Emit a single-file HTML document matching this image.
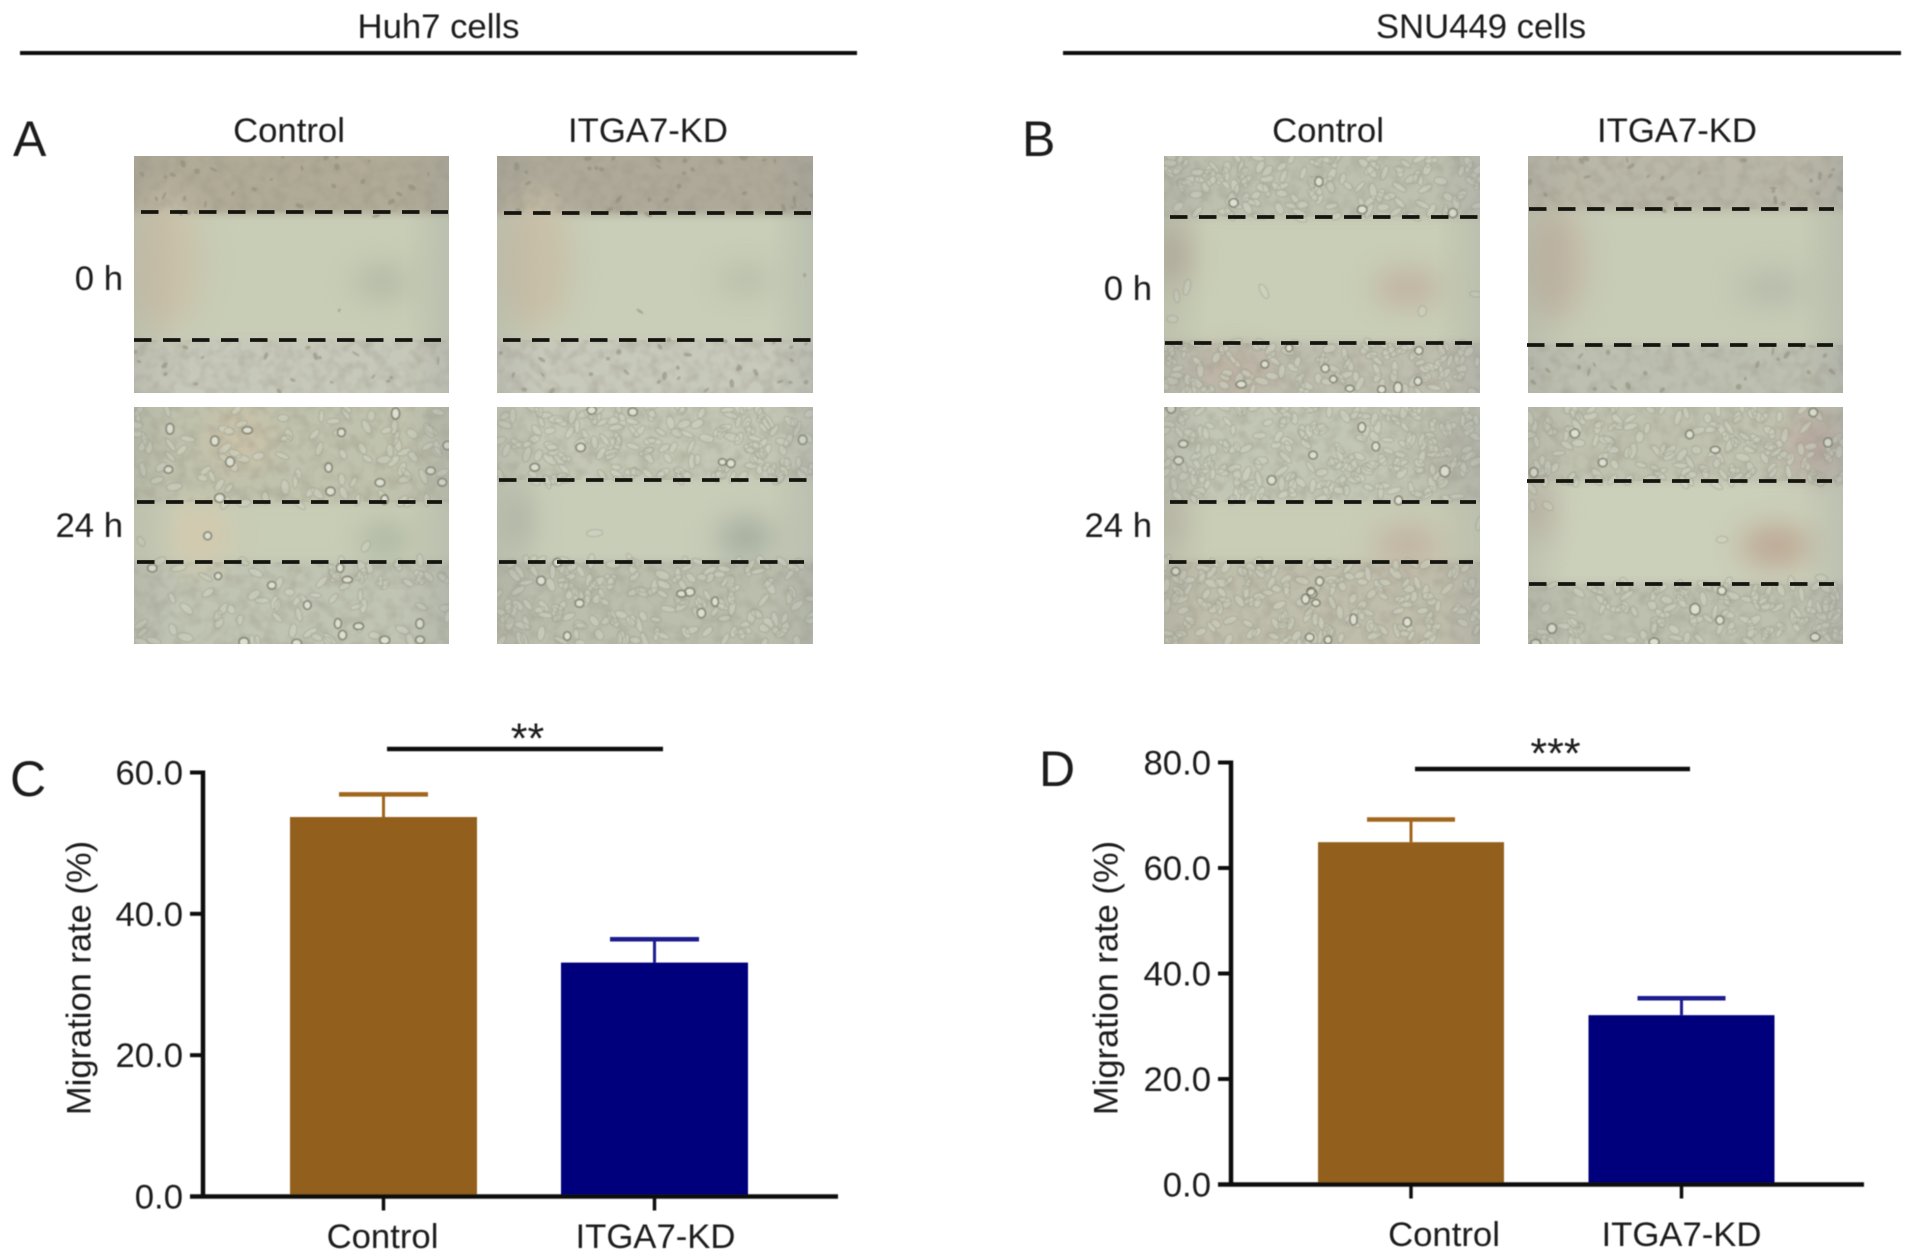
<!DOCTYPE html>
<html lang="en">
<head>
<meta charset="utf-8">
<title>Wound healing migration assay</title>
<style>
  html, body { margin: 0; padding: 0; background: #ffffff; }
  body { width: 1913px; height: 1260px; overflow: hidden; }
  svg { display: block; }
  text { font-family: "Liberation Sans", sans-serif; fill: #1a1a1a; }
</style>
</head>
<body>
<svg id="figure" xmlns="http://www.w3.org/2000/svg" width="1913" height="1260" viewBox="0 0 1913 1260">
  <defs>
    <filter id="soft" x="-300%" y="-300%" width="700%" height="700%" color-interpolation-filters="sRGB"><feGaussianBlur stdDeviation="15"/></filter>
    <filter id="bandBlur" x="-5%" y="-30%" width="110%" height="160%"><feGaussianBlur stdDeviation="4"/></filter>
    <filter id="cellBlur" x="0" y="0" width="100%" height="100%"><feGaussianBlur stdDeviation="0.9"/></filter>
    <filter id="textBlur" x="-5%" y="-5%" width="110%" height="110%"><feGaussianBlur stdDeviation="0.45"/></filter>
    <filter id="grain" x="0" y="0" width="100%" height="100%">
      <feTurbulence type="fractalNoise" baseFrequency="0.08" numOctaves="2" seed="7"/>
      <feColorMatrix type="matrix" values="0 0 0 0 0.30  0 0 0 0 0.28  0 0 0 0 0.22  1.5 0 0 0 -0.6"/>
    </filter>
    <linearGradient id="vignette" x1="0" y1="0" x2="1" y2="0">
      <stop offset="0" stop-color="#8f8f8a" stop-opacity="0.2"/>
      <stop offset="0.14" stop-color="#8f8f8a" stop-opacity="0"/>
      <stop offset="0.86" stop-color="#8f8f8a" stop-opacity="0"/>
      <stop offset="1" stop-color="#8f9498" stop-opacity="0.24"/>
    </linearGradient>
  </defs>

  <g id="headers" filter="url(#textBlur)">
    <text x="438.5" y="38" font-size="34.7" text-anchor="middle">Huh7 cells</text>
    <rect x="20" y="51" width="837" height="4" fill="#111"/>
    <text x="1481" y="38" font-size="34.7" text-anchor="middle">SNU449 cells</text>
    <rect x="1063" y="51" width="838" height="4" fill="#111"/>
    <text x="13" y="156" font-size="50">A</text>
    <text x="1022" y="156" font-size="50">B</text>
    <text x="10" y="796" font-size="50">C</text>
    <text x="1039" y="786" font-size="50">D</text>
    <text x="289" y="142" font-size="34.7" text-anchor="middle">Control</text>
    <text x="648" y="142" font-size="34.7" text-anchor="middle">ITGA7-KD</text>
    <text x="1328" y="142" font-size="34.7" text-anchor="middle">Control</text>
    <text x="1677" y="142" font-size="34.7" text-anchor="middle">ITGA7-KD</text>
    <text x="123" y="290" font-size="34.7" text-anchor="end">0 h</text>
    <text x="123" y="537" font-size="34.7" text-anchor="end">24 h</text>
    <text x="1152" y="300" font-size="34.7" text-anchor="end">0 h</text>
    <text x="1152" y="537" font-size="34.7" text-anchor="end">24 h</text>
  </g>
  <g id="photos"></g>
  <g id="chartC" filter="url(#textBlur)"></g>
  <g id="chartD" filter="url(#textBlur)"></g>
</svg>

<script>
/* ---------- chart data ---------- */
const categories = ['Control', 'ITGA7-KD'];
const cValues = [53.7, 33.1];
const cErrors = [3.2, 3.3];
const cTicks = [0, 20, 40, 60];
const cTickLabels = ['0.0', '20.0', '40.0', '60.0'];
const cStars = '**';
const dValues = [64.9, 32.1];
const dErrors = [4.3, 3.2];
const dTicks = [0, 20, 40, 60, 80];
const dTickLabels = ['0.0', '20.0', '40.0', '60.0', '80.0'];
const dStars = '***';

const NS = 'http://www.w3.org/2000/svg';
function make(parent, tag, attrs, content) {
  const el = document.createElementNS(NS, tag);
  for (const k in attrs) el.setAttribute(k, attrs[k]);
  if (content !== undefined) el.textContent = content;
  parent.appendChild(el);
  return el;
}

const barFill = ['#92601e', '#00007b'];
const errorStroke = ['#a0661f', '#1c1c8e'];

function drawChart(root, geo, cats, values, errors, ticks, tickLabels, stars) {
  const domainMax = ticks[ticks.length - 1];
  const yScale = v => geo.y0 - (v / domainMax) * (geo.y0 - geo.yTop);
  const xScale = i => geo.x0 + i * geo.step;

  cats.forEach((cat, i) => {
    const cx = xScale(i);
    const top = yScale(values[i]);
    const errTop = yScale(values[i] + errors[i]);

    const bar = make(root, 'rect', { x: cx - geo.barW / 2, y: top, width: geo.barW, height: geo.y0 - top, fill: barFill[i] });
    
    

    const stem = make(root, 'line', { x1: cx, x2: cx, y1: top, y2: errTop, stroke: errorStroke[i], 'stroke-width': 3 });
    
    

    const cap = make(root, 'line', { x1: cx - geo.capW / 2, x2: cx + geo.capW / 2, y1: errTop, y2: errTop, stroke: errorStroke[i], 'stroke-width': 4.5 });
    
    

    const xTick = make(root, 'line', { x1: cx, x2: cx, y1: geo.y0, y2: geo.y0 + 14, stroke: '#111', 'stroke-width': 3.5 });
    
    

    const shift = i === 0 ? geo.firstLabelShift : geo.lastLabelShift;
    const xLabel = make(root, 'text', { x: cx + shift, y: geo.xLabelY, 'font-size': 34.7, 'text-anchor': 'middle' }, cat);
    
    
  });

  const yAxis = make(root, 'line', { x1: geo.axisX, x2: geo.axisX, y1: geo.yTop - 2, y2: geo.y0 + 2, stroke: '#111', 'stroke-width': 4.5 });
  
  

  const xAxis = make(root, 'line', { x1: geo.axisX - 13, x2: geo.xEnd, y1: geo.y0, y2: geo.y0, stroke: '#111', 'stroke-width': 4.5 });
  
  

  ticks.forEach((t, i) => {
    const y = yScale(t);
    const tick = make(root, 'line', { x1: geo.axisX - 13, x2: geo.axisX, y1: y, y2: y, stroke: '#111', 'stroke-width': 4 });
    
    

    const label = make(root, 'text', { x: geo.axisX - 20, y: y + 12, 'font-size': 34.7, 'text-anchor': 'end' }, tickLabels[i]);
    
    
  });

  const title = make(root, 'text', { x: 0, y: 0, 'font-size': 34.5, 'text-anchor': 'middle', transform: 'translate(' + geo.titleX + ' ' + geo.titleY + ') rotate(-90)' }, 'Migration rate (%)');
  
  

  const sig = make(root, 'line', { x1: geo.sigX1, x2: geo.sigX2, y1: geo.sigY, y2: geo.sigY, stroke: '#111', 'stroke-width': 4.5 });
  
  

  const star = make(root, 'text', { x: geo.starX, y: geo.starY, 'font-size': 43, 'text-anchor': 'middle' }, stars);
  
  
}

drawChart(document.getElementById('chartC'),
  { x0: 383.5, step: 271, barW: 187, capW: 89, y0: 1196.5, yTop: 772.5, axisX: 203, xEnd: 838, xLabelY: 1248, firstLabelShift: -1, lastLabelShift: 1, titleX: 90.5, titleY: 978, sigX1: 387, sigX2: 663, sigY: 749, starX: 527.5, starY: 753 },
  categories, cValues, cErrors, cTicks, cTickLabels, cStars);

drawChart(document.getElementById('chartD'),
  { x0: 1411, step: 270.5, barW: 186, capW: 88, y0: 1184.5, yTop: 762.5, axisX: 1231, xEnd: 1864, xLabelY: 1246, firstLabelShift: 33, lastLabelShift: 0, titleX: 1117.5, titleY: 978, sigX1: 1415, sigX2: 1690, sigY: 769, starX: 1555.5, starY: 768 },
  categories, dValues, dErrors, dTicks, dTickLabels, dStars);

/* ---------- micrograph panels (decorative texture, not chart data) ---------- */
const photos = [
  { id: 'a-control-0h', x: 134, y: 156, w: 315, h: 237, top: 212, bot: 340, t: [141, 448], b: [134, 441], wound: '#c8cdb6', upper: '#b0aa97', lower: '#c6c8b9', kind: 'debris', seed: 11,
    stains: [[382, 282, 26, 14, '#aeb3a1'], [165, 262, 36, 70, '#c9c0a8']] },
  { id: 'a-kd-0h', x: 497, y: 156, w: 316, h: 237, top: 213, bot: 340, t: [504, 811], b: [503, 811], wound: '#c8ceb8', upper: '#aea999', lower: '#c7c9bb', kind: 'debris', seed: 23,
    stains: [[746, 280, 28, 12, '#b5b9a6'], [535, 262, 36, 70, '#c8bfa7']] },
  { id: 'a-control-24h', x: 134, y: 407, w: 315, h: 237, top: 502, bot: 562, t: [137, 442], b: [137, 442], wound: '#c8cdb6', upper: '#bfc2ad', lower: '#c0c4b3', kind: 'sparse', seed: 37,
    stains: [[385, 540, 24, 15, '#a7b19d'], [200, 535, 28, 36, '#d2c9ae'], [240, 440, 34, 34, '#c9c1a8']] },
  { id: 'a-kd-24h', x: 497, y: 407, w: 316, h: 237, top: 480, bot: 562, t: [499, 807], b: [499, 804], wound: '#c8cdb8', upper: '#c4c7b5', lower: '#bbbead', kind: 'dense', seed: 41,
    stains: [[746, 538, 28, 18, '#a0a89b'], [520, 520, 12, 34, '#b0b3a4']] },
  { id: 'b-control-0h', x: 1164, y: 156, w: 316, h: 237, top: 217, bot: 343, t: [1170, 1478], b: [1165, 1472], wound: '#c9ceb6', upper: '#bdc0af', lower: '#bebeaf', kind: 'dense', seed: 53,
    stains: [[1408, 288, 34, 16, '#bfae9d'], [1172, 255, 16, 34, '#b3a999'], [1235, 372, 40, 20, '#bdb0a2']] },
  { id: 'b-kd-0h', x: 1528, y: 156, w: 315, h: 237, top: 209, bot: 345, t: [1529, 1834], b: [1527, 1833], wound: '#c7ccb6', upper: '#b9b7a7', lower: '#bdc0b1', kind: 'debris', seed: 67,
    stains: [[1772, 288, 36, 16, '#b5b9aa'], [1555, 262, 30, 60, '#bfb5a3']] },
  { id: 'b-control-24h', x: 1164, y: 407, w: 316, h: 237, top: 502, bot: 562, t: [1170, 1476], b: [1169, 1473], wound: '#c9cdb5', upper: '#c2c6b4', lower: '#bfbdab', kind: 'dense', seed: 71,
    stains: [[1408, 545, 34, 18, '#c0b09f'], [1170, 520, 8, 26, '#b3a79d'], [1450, 450, 36, 44, '#b7b8a9']] },
  { id: 'b-kd-24h', x: 1528, y: 407, w: 315, h: 237, top: 481, bot: 584, t: [1527, 1832], b: [1529, 1834], wound: '#cbd0ba', upper: '#c0c2b0', lower: '#bdc0af', kind: 'dense', seed: 83,
    stains: [[1776, 546, 36, 20, '#bca592'], [1815, 445, 26, 34, '#baa99f'], [1538, 510, 12, 30, '#bbac9f']] }
];

function seeded(a) {
  return function () {
    a = (a + 0x6D2B79F5) | 0;
    let t = Math.imul(a ^ (a >>> 15), 1 | a);
    t = (t + Math.imul(t ^ (t >>> 7), 61 | t)) ^ t;
    return ((t ^ (t >>> 14)) >>> 0) / 4294967296;
  };
}

function ellipsePath(cx, cy, rx, ry, rot) {
  const a = rot * Math.PI / 180;
  const dx = Math.cos(a) * rx, dy = Math.sin(a) * rx;
  const f = n => n.toFixed(1);
  return 'M' + f(cx - dx) + ' ' + f(cy - dy) + 'A' + rx.toFixed(1) + ' ' + ry.toFixed(1) + ' ' + rot.toFixed(0) + ' 1 0 ' + f(cx + dx) + ' ' + f(cy + dy) + 'A' + rx.toFixed(1) + ' ' + ry.toFixed(1) + ' ' + rot.toFixed(0) + ' 1 0 ' + f(cx - dx) + ' ' + f(cy - dy) + 'Z';
}

const host = document.getElementById('photos');

photos.forEach((p, idx) => {
  const g = make(host, 'g', {});
  
  

  const clipId = 'clip' + idx;
  const defs = make(g, 'defs', {});
  const clip = make(defs, 'clipPath', { id: clipId });
  make(clip, 'rect', { x: p.x, y: p.y, width: p.w, height: p.h });

  const inner = make(g, 'g', { 'clip-path': 'url(#' + clipId + ')' });

  const base = make(inner, 'rect', { x: p.x, y: p.y, width: p.w, height: p.h, fill: p.wound });
  
  

  const upper = make(inner, 'rect', { x: p.x - 20, y: p.y - 20, width: p.w + 40, height: p.top - p.y + 22, fill: p.upper, filter: 'url(#bandBlur)' });
  
  

  const lower = make(inner, 'rect', { x: p.x - 20, y: p.bot - 2, width: p.w + 40, height: p.y + p.h - p.bot + 22, fill: p.lower, filter: 'url(#bandBlur)' });
  
  

  p.stains.forEach(s => {
    const st = make(inner, 'ellipse', { cx: s[0], cy: s[1], rx: s[2], ry: s[3], fill: s[4], filter: 'url(#soft)' });
    
    
  });

  /* grain confined to the cell layers */
  [[p.y, p.top - p.y], [p.bot, p.y + p.h - p.bot]].forEach(r => {
    const gr = make(inner, 'rect', { x: p.x, y: r[0], width: p.w, height: r[1], filter: 'url(#grain)', opacity: 0.5 });
    
    
  });

  /* cells */
  const rnd = seeded(p.seed);
  let flatDark = '', flatLight = '', roundRing = '';
  const count = p.kind === 'dense' ? 520 : (p.kind === 'sparse' ? 260 : 130);
  const roundShare = p.kind === 'debris' ? 0.0 : (p.kind === 'sparse' ? 0.14 : 0.05);
  for (let i = 0; i < count; i++) {
    const cx = p.x + rnd() * p.w;
    const cy = p.y + rnd() * p.h;
    if (cy > p.top + 2 && cy < p.bot - 2) {
      if (rnd() < 0.98) continue;
    }
    const r = rnd();
    if (r < roundShare) {
      roundRing += ellipsePath(cx, cy, 3.4 + rnd() * 1.6, 3.2 + rnd() * 1.6, 0);
    } else if (p.kind === 'debris') {
      flatDark += ellipsePath(cx, cy, 1.5 + rnd() * 3, 1 + rnd() * 1.5, rnd() * 180);
    } else {
      const rx = 5 + rnd() * 3, ry = 2.4 + rnd() * 1.4, rot = rnd() * 180;
      flatLight += ellipsePath(cx, cy, rx, ry, rot);
    }
  }
  const cellGroup = make(inner, 'g', { filter: 'url(#cellBlur)' });
  
  
  make(cellGroup, 'path', { d: flatLight || 'M0 0', fill: '#d0d4c3', 'fill-opacity': 0.55, stroke: '#8f927f', 'stroke-opacity': 0.5, 'stroke-width': 1 });
  make(cellGroup, 'path', { d: flatDark || 'M0 0', fill: '#8a8674', 'fill-opacity': 0.55 });
  make(cellGroup, 'path', { d: roundRing || 'M0 0', fill: '#dcdfd1', stroke: '#74745f', 'stroke-width': 1.4 });

  const vig = make(inner, 'rect', { x: p.x, y: p.y, width: p.w, height: p.h, fill: 'url(#vignette)' });
  
  

  const upperLine = make(g, 'line', { x1: p.t[0], x2: p.t[1], y1: p.top, y2: p.top, stroke: '#15150f', 'stroke-width': 3.8, 'stroke-dasharray': '17.5 11.5' });
  
  

  const lowerLine = make(g, 'line', { x1: p.b[0], x2: p.b[1], y1: p.bot, y2: p.bot, stroke: '#15150f', 'stroke-width': 3.8, 'stroke-dasharray': '17.5 11.5' });
  
  
});
</script>
</body>
</html>
